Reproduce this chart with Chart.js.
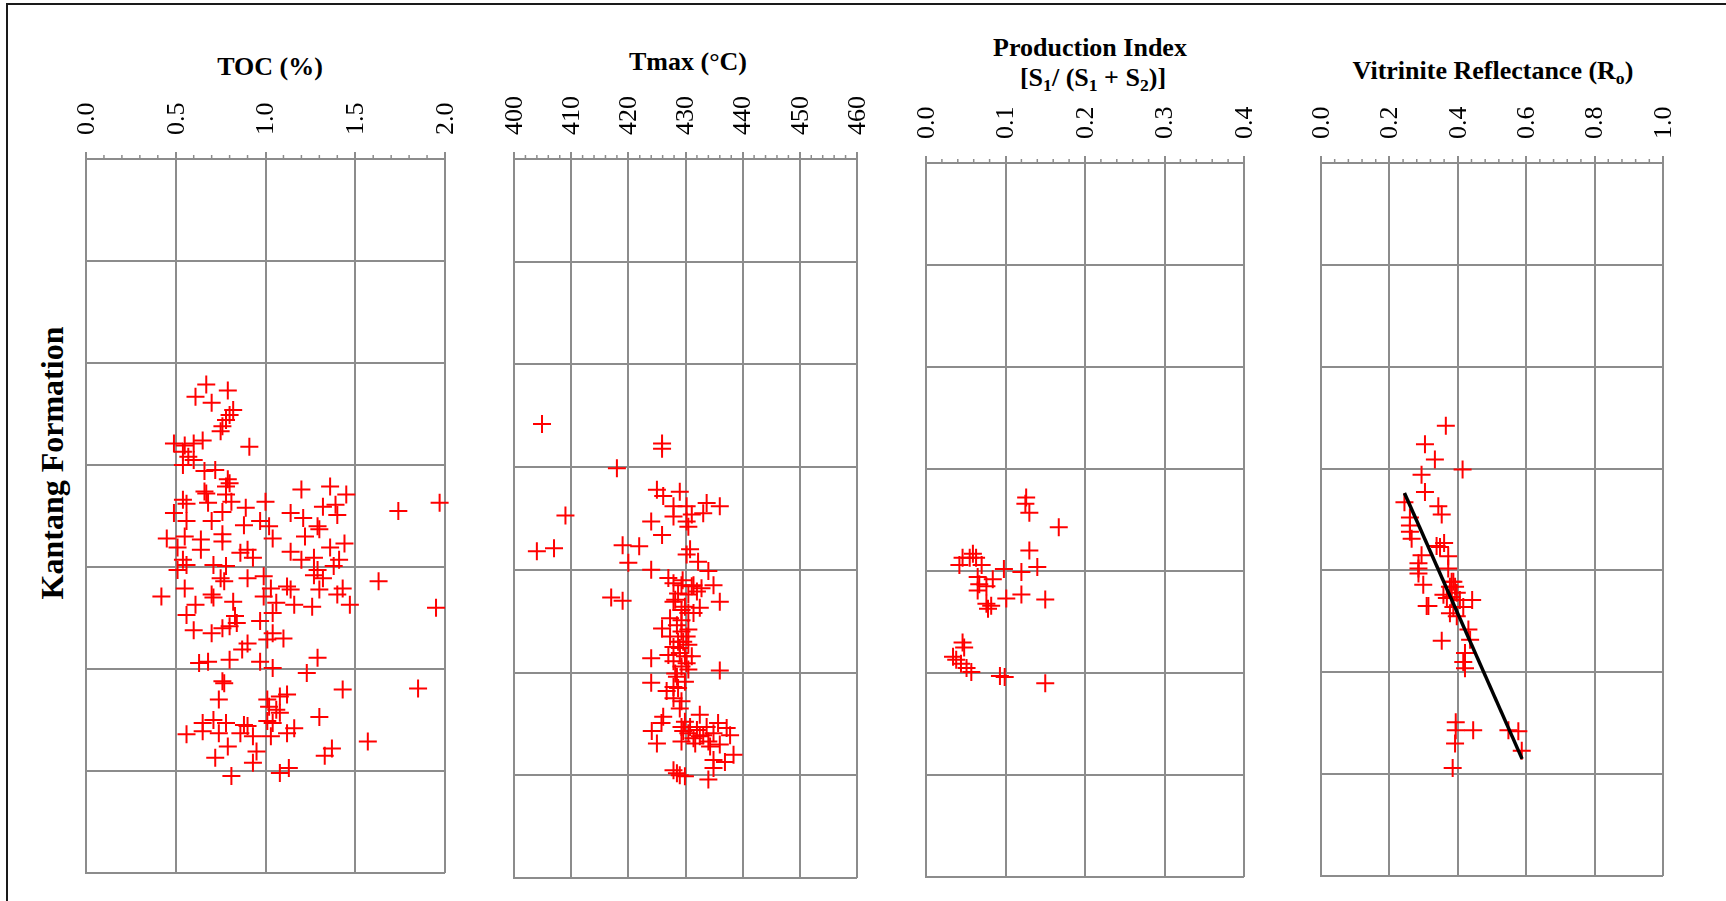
<!DOCTYPE html>
<html>
<head>
<meta charset="utf-8">
<title>Kantang Formation - geochemical logs</title>
<script src="https://cdn.jsdelivr.net/npm/chart.js@4.4.1/dist/chart.umd.min.js"></script>
<style>
  html, body { margin: 0; padding: 0; background: #fff; }
  body { width: 1726px; height: 901px; position: relative; overflow: hidden; font-family: 'Liberation Serif', 'Times New Roman', serif; color: #000; }
  .frame { position: absolute; left: 6px; top: 3px; width: 1800px; height: 1000px; border-left: 2px solid #1a1a1a; border-top: 2px solid #1a1a1a; }
  .panel { position: absolute; top: 0; }
  .title { position: absolute; transform: translateX(-50%); font-weight: bold; font-size: 26px; line-height: 30px; white-space: nowrap; }
  .sub { position: relative; top: 0.3em; font-size: 0.68em; }
  .side { position: absolute; left: 52px; top: 463px; transform: translate(-50%, -50%) rotate(-90deg); font-weight: bold; font-size: 32px; line-height: 36px; white-space: nowrap; }
</style>
</head>
<body>
<div class="frame"></div>
<div class="side">Kantang Formation</div>

<div class="title" style="left:270px; top:52px">TOC (%)</div>
<div class="title" style="left:688px; top:47px">Tmax (°C)</div>
<div class="title" style="left:1090px; top:33px">Production Index</div>
<div class="title" style="left:1093px; top:63px">[S<span class="sub">1</span>/ (S<span class="sub">1</span> + S<span class="sub">2</span>)]</div>
<div class="title" style="left:1493px; top:56px">Vitrinite Reflectance (R<span class="sub">o</span>)</div>

<canvas id="toc-chart" class="panel"></canvas>
<canvas id="tmax-chart" class="panel"></canvas>
<canvas id="pi-chart" class="panel"></canvas>
<canvas id="ro-chart" class="panel"></canvas>

<script>
// Depth is in grid rows (0 = top of log, 7 = bottom)

// TOC (%)
const tocValues = [0.67, 0.79, 0.61, 0.70, 0.82, 0.80, 0.78, 0.76, 0.75, 0.49, 0.55, 0.60, 0.65, 0.91, 0.54, 0.57, 0.60, 0.54, 0.66, 0.72,
    0.79, 0.80, 0.78, 1.20, 1.36, 1.45, 0.66, 0.67, 0.78, 0.54, 0.56, 0.81, 0.68, 1.00, 0.89, 1.97, 1.74, 0.49, 1.39, 1.32,
    1.14, 1.21, 1.40, 0.76, 0.56, 0.70, 0.88, 0.97, 1.02, 1.29, 1.30, 0.45, 0.55, 0.64, 0.76, 0.76, 1.04, 1.22, 0.51, 0.64,
    0.86, 0.90, 0.93, 1.14, 1.44, 1.36, 1.20, 1.27, 1.41, 0.54, 0.56, 0.51, 0.71, 0.78, 1.29, 1.38, 1.27, 1.32, 1.63, 0.75,
    0.77, 0.90, 0.99, 0.55, 0.42, 0.70, 0.71, 1.03, 1.12, 1.14, 1.30, 1.43, 1.40, 0.61, 0.82, 0.99, 1.06, 1.16, 1.26, 1.47,
    1.95, 0.56, 0.83, 0.60, 0.70, 0.76, 0.80, 0.84, 0.97, 1.04, 0.90, 0.87, 1.01, 1.10, 1.04, 0.63, 0.68, 0.80, 0.97, 1.04,
    1.29, 1.23, 0.76, 0.77, 0.74, 1.43, 1.85, 1.01, 1.08, 1.12, 1.02, 1.06, 1.08, 1.30, 0.65, 0.71, 0.78, 0.88, 0.90, 1.01,
    1.04, 1.16, 0.56, 0.65, 0.74, 0.86, 0.93, 1.03, 1.12, 1.57, 0.79, 0.95, 1.37, 1.33, 0.72, 0.93, 1.08, 1.13, 0.81];
const tocDepths = [2.21, 2.27, 2.33, 2.39, 2.46, 2.51, 2.56, 2.62, 2.67, 2.79, 2.81, 2.79, 2.76, 2.82, 2.87, 2.92, 2.95, 3.00, 3.06, 3.05,
    3.14, 3.18, 3.21, 3.24, 3.21, 3.29, 3.26, 3.28, 3.29, 3.34, 3.38, 3.36, 3.37, 3.36, 3.42, 3.37, 3.45, 3.47, 3.39, 3.41,
    3.47, 3.52, 3.49, 3.46, 3.55, 3.55, 3.59, 3.55, 3.60, 3.60, 3.63, 3.72, 3.70, 3.73, 3.68, 3.75, 3.72, 3.70, 3.81, 3.83,
    3.86, 3.83, 3.91, 3.85, 3.77, 3.81, 3.93, 3.91, 3.93, 3.93, 3.98, 4.03, 3.98, 3.99, 4.03, 3.99, 4.08, 4.11, 4.14, 4.11,
    4.14, 4.11, 4.09, 4.21, 4.29, 4.27, 4.30, 4.21, 4.19, 4.22, 4.22, 4.21, 4.27, 4.37, 4.34, 4.29, 4.35, 4.37, 4.39, 4.37,
    4.40, 4.47, 4.48, 4.62, 4.65, 4.60, 4.58, 4.55, 4.53, 4.45, 4.75, 4.81, 4.71, 4.70, 4.65, 4.94, 4.93, 4.91, 4.93, 4.99,
    4.89, 5.04, 5.12, 5.14, 5.30, 5.20, 5.19, 5.30, 5.27, 5.25, 5.37, 5.40, 5.43, 5.47, 5.53, 5.50, 5.53, 5.55, 5.56, 5.51,
    5.53, 5.58, 5.64, 5.61, 5.63, 5.63, 5.66, 5.66, 5.63, 5.71, 5.76, 5.81, 5.78, 5.85, 5.87, 5.92, 6.02, 5.97, 6.05];

// Tmax (°C)
const tmaxValues = [404.9, 425.9, 425.9, 418.0, 425.0, 426.1, 429.0, 427.9, 430.2, 433.7, 436.0, 433.1, 431.1, 427.9, 430.2, 430.5, 424.0, 425.9, 409.0, 407.0,
    404.0, 419.0, 421.9, 420.0, 430.8, 430.2, 432.2, 424.0, 434.0, 427.0, 427.9, 429.3, 431.4, 432.8, 434.9, 428.7, 430.5, 417.0, 419.0, 436.0,
    427.9, 432.5, 429.3, 430.5, 427.3, 425.9, 429.3, 430.2, 428.7, 430.5, 427.9, 429.0, 429.9, 427.0, 424.0, 430.2, 436.0, 428.2, 424.0, 426.7,
    428.7, 427.9, 429.3, 429.0, 426.1, 425.8, 432.5, 429.9, 430.8, 432.0, 429.6, 433.7, 435.7, 437.2, 437.8, 434.9, 432.5, 424.1, 425.0, 429.3,
    431.7, 434.0, 436.0, 438.4, 434.9, 436.9, 434.9, 427.9, 429.0, 429.9, 434.0, 428.5, 429.5, 431.1, 432.0, 428.2, 429.9, 431.4, 429.3, 428.5,
    430.5, 427.3, 429.6, 429.0, 431.1, 427.9, 429.3, 430.5, 428.5, 429.9, 427.9, 430.5, 433.1, 431.4, 429.3, 434.3];
const tmaxDepths = [2.58, 2.77, 2.82, 3.01, 3.22, 3.28, 3.24, 3.38, 3.38, 3.35, 3.38, 3.45, 3.46, 3.48, 3.53, 3.58, 3.53, 3.66, 3.47, 3.79,
    3.82, 3.76, 3.77, 3.93, 3.80, 3.85, 3.92, 4.00, 4.01, 4.08, 4.13, 4.15, 4.15, 4.18, 4.15, 4.23, 4.24, 4.27, 4.30, 4.31,
    4.31, 4.37, 4.39, 4.42, 4.47, 4.57, 4.60, 4.65, 4.70, 4.73, 4.75, 4.81, 4.84, 4.83, 4.86, 4.91, 4.98, 5.01, 5.10, 5.18,
    5.15, 5.25, 5.28, 5.35, 5.43, 5.49, 5.41, 5.48, 5.53, 5.56, 5.57, 5.53, 5.49, 5.54, 5.61, 5.59, 5.62, 5.57, 5.69, 5.67,
    5.69, 5.67, 5.70, 5.80, 5.85, 5.87, 5.93, 5.95, 6.00, 6.01, 6.04, 5.98, 4.10, 4.16, 4.21, 4.29, 4.36, 4.42, 4.49, 4.54,
    4.58, 4.65, 4.70, 4.76, 4.84, 4.89, 4.94, 4.97, 5.04, 5.09, 5.14, 5.59, 5.61, 5.64, 5.53, 5.72];

// Production Index [S1/(S1+S2)]
const piValues = [0.126, 0.125, 0.130, 0.167, 0.130, 0.140, 0.120, 0.098, 0.059, 0.046, 0.042, 0.070, 0.063, 0.065, 0.084, 0.067, 0.076, 0.065,
    0.101, 0.120, 0.150, 0.076, 0.082, 0.078, 0.046, 0.048, 0.034, 0.038, 0.044, 0.057, 0.051, 0.093, 0.099, 0.150, 0.055];
const piDepths = [3.28, 3.34, 3.43, 3.57, 3.80, 3.96, 4.01, 3.98, 3.83, 3.87, 3.94, 3.94, 3.87, 4.06, 4.08, 4.13, 4.15, 4.19,
    4.27, 4.23, 4.28, 4.32, 4.34, 4.37, 4.70, 4.75, 4.84, 4.87, 4.91, 4.99, 4.95, 5.03, 5.04, 5.10, 3.87];

// Vitrinite reflectance (Ro)
const roValues = [0.365, 0.304, 0.333, 0.414, 0.294, 0.304, 0.244, 0.343, 0.353, 0.260, 0.260, 0.260, 0.265, 0.338, 0.360, 0.294, 0.372, 0.285,
    0.285, 0.372, 0.299, 0.382, 0.392, 0.358, 0.368, 0.382, 0.397, 0.406, 0.442, 0.314, 0.309, 0.387, 0.416, 0.377, 0.397, 0.431,
    0.436, 0.353, 0.421, 0.416, 0.421, 0.394, 0.394, 0.445, 0.392, 0.385, 0.548, 0.577, 0.587, 0.377, 0.387, 0.285, 0.348];
const roDepths = [2.58, 2.76, 2.91, 3.01, 3.06, 3.23, 3.33, 3.37, 3.45, 3.48, 3.56, 3.62, 3.69, 3.76, 3.73, 3.85, 3.86, 3.93,
    3.98, 3.98, 4.14, 4.11, 4.16, 4.24, 4.27, 4.26, 4.22, 4.29, 4.29, 4.35, 4.35, 4.36, 4.36, 4.42, 4.45, 4.58,
    4.68, 4.69, 4.81, 4.90, 4.96, 5.49, 5.57, 5.57, 5.70, 5.94, 5.57, 5.58, 5.77, 4.16, 4.11, 4.03, 3.77];

// Ro trend line end points
const roTrendValues = [0.244, 0.588];
const roTrendDepths = [3.24, 5.85];

// Axis ranges: [min, max, major step, minor step]
const tocRange = [0, 2, 0.5, 0.1];
const tmaxRange = [400, 460, 10, 2];
const piRange = [0, 0.4, 0.1, 0.02];
const roRange = [0, 1, 0.2, 0.04];
const depthRange = [0, 7, 1];

// Styling
const GRID = '#8c8c8c';
const MARKER = '#ff0000';
const AXIS_H = 100;   // tall enough that the rotated labels are not clipped
const SIDE = 50;
const PAGE_H = 901;
const TICK_FONT = 26;

// Small tick marks between the labelled ones on the top axis
const minorTicks = {
    id: 'minorTicks',
    afterDraw(chart, args, opts) {
        const scale = chart.scales.x;
        const { ctx, chartArea } = chart;
        const n = Math.round((scale.max - scale.min) / opts.step);
        ctx.save();
        ctx.strokeStyle = GRID;
        ctx.lineWidth = 1.5;
        for (let i = 1; i < n; i++) {
            if (i % opts.per === 0) continue;
            const x = scale.getPixelForValue(scale.min + i * opts.step);
            ctx.beginPath();
            ctx.moveTo(x, chartArea.top - 4);
            ctx.lineTo(x, chartArea.top);
            ctx.stroke();
        }
        ctx.restore();
    }
};

function toPoints(xs, ys) {
    return xs.map((x, i) => ({ x: x, y: ys[i] }));
}

function crossSet(xs, ys) {
    return {
        data: toPoints(xs, ys),
        pointStyle: 'cross',
        pointRadius: 9,
        pointBorderWidth: 2,
        pointBorderColor: MARKER,
        borderColor: MARKER,
        clip: false,
        order: 1
    };
}

// Build one log panel; box is the plot area in page pixels
function makePanel(id, box, range, decimals, datasets) {
    const canvas = document.getElementById(id);
    const w = box.right - box.left + SIDE * 2;
    canvas.width = w;
    canvas.height = PAGE_H;
    canvas.style.left = (box.left - SIDE) + 'px';
    canvas.style.width = w + 'px';
    canvas.style.height = PAGE_H + 'px';

    return new Chart(canvas, {
        type: 'scatter',
        data: { datasets: datasets },
        options: {
            responsive: false,
            animation: false,
            events: [],
            layout: {
                padding: { left: SIDE, right: SIDE, top: box.top - AXIS_H, bottom: PAGE_H - box.bottom }
            },
            plugins: {
                legend: { display: false },
                tooltip: { enabled: false },
                minorTicks: { step: range[3], per: Math.round(range[2] / range[3]) }
            },
            scales: {
                x: {
                    type: 'linear',
                    position: 'top',
                    min: range[0],
                    max: range[1],
                    afterFit: (s) => { s.height = AXIS_H; },
                    ticks: {
                        stepSize: range[2],
                        autoSkip: false,
                        minRotation: 90,
                        maxRotation: 90,
                        padding: 17,
                        // rotated top labels sit one line-height left of the tick, pull them back
                        labelOffset: TICK_FONT * 1.2 + 1,
                        color: '#000',
                        font: { family: 'Liberation Serif', size: TICK_FONT },
                        callback: (v) => Number(v).toFixed(decimals)
                    },
                    grid: { color: GRID, lineWidth: 2, tickLength: 7, tickColor: GRID, tickWidth: 2 },
                    border: { color: GRID, width: 2 }
                },
                y: {
                    type: 'linear',
                    reverse: true,
                    min: depthRange[0],
                    max: depthRange[1],
                    afterFit: (s) => { s.width = 0; },
                    ticks: { display: false, stepSize: depthRange[2] },
                    grid: { color: GRID, lineWidth: 2, drawTicks: false },
                    border: { color: GRID, width: 2 }
                }
            }
        },
        plugins: [minorTicks]
    });
}

makePanel('toc-chart', { left: 86, right: 445, top: 159, bottom: 873 }, tocRange, 1,
    [crossSet(tocValues, tocDepths)]);

makePanel('tmax-chart', { left: 514, right: 857, top: 159, bottom: 878 }, tmaxRange, 0,
    [crossSet(tmaxValues, tmaxDepths)]);

makePanel('pi-chart', { left: 926, right: 1244, top: 163, bottom: 877 }, piRange, 1,
    [crossSet(piValues, piDepths)]);

makePanel('ro-chart', { left: 1321, right: 1663, top: 163, bottom: 876 }, roRange, 1, [
    {
        type: 'line',
        data: toPoints(roTrendValues, roTrendDepths),
        borderColor: '#000',
        borderWidth: 3.5,
        pointRadius: 0,
        clip: false,
        order: 0
    },
    crossSet(roValues, roDepths)
]);
</script>
</body>
</html>
